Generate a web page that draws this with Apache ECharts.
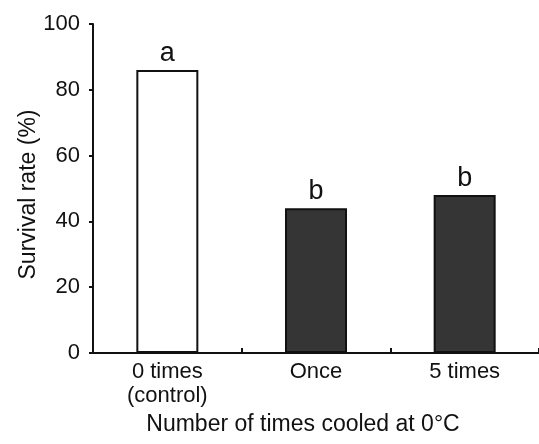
<!DOCTYPE html>
<html style="height: 100%">
	<head>
		<meta charset="utf-8" />
		<title>Survival rate</title>
		<script src="https://cdn.jsdelivr.net/npm/echarts@6/dist/echarts.min.js"></script>
	</head>
	<body style="height: 100%; margin: 0; background: #fff">
		<div id="container" style="width: 539px; height: 444px"></div>
		<script type="text/javascript">
			// data
			let categories = ["0 times\n(control)", "Once", "5 times"];
			let survival = [86, 44, 48];
			let letters = ["a", "b", "b"];
			let yTicks = [0, 20, 40, 60, 80, 100];

			let fillColors = ["#ffffff", "#353535", "#353535"];
			let font = "'Liberation Sans', Arial, sans-serif";
			let ink = "#111";

			let barData = survival.map((v, i) => ({
				value: v,
				itemStyle: { color: fillColors[i] },
				label: { formatter: letters[i] }
			}));

			let chart = echarts.init(document.getElementById("container"));
			chart.setOption({
				animation: false,
				backgroundColor: "#fff",
				grid: { left: 93, top: 24, width: 450, bottom: 91 },
				xAxis: {
					type: "category",
					data: categories,
					name: "Number of times cooled at 0°C",
					nameLocation: "middle",
					nameGap: 58,
					nameTextStyle: { fontFamily: font, fontSize: 23, color: ink, padding: [0, 26, 0, 0] },
					axisLine: { lineStyle: { color: ink, width: 2 } },
					axisTick: { show: true, inside: true, length: 5, lineStyle: { color: ink, width: 2 } },
					axisLabel: { fontFamily: font, fontSize: 22, color: ink, margin: 7, lineHeight: 24 }
				},
				yAxis: {
					type: "value",
					min: yTicks[0],
					max: yTicks[yTicks.length - 1],
					interval: 20,
					name: "Survival rate (%)",
					nameLocation: "middle",
					nameGap: 53,
					nameMoveOverlap: false,
					nameTextStyle: { fontFamily: font, fontSize: 23, color: ink, padding: [0, 12, 0, 0] },
					axisLine: { show: true, lineStyle: { color: ink, width: 2 } },
					axisTick: { show: true, length: 4, lineStyle: { color: ink, width: 2 } },
					axisLabel: { fontFamily: font, fontSize: 22, color: ink, margin: 13 },
					splitLine: { show: false }
				},
				series: [
					{
						type: "bar",
						data: barData,
						barWidth: 62,
						itemStyle: { borderColor: ink, borderWidth: 2 },
						label: {
							show: true,
							position: "top",
							distance: 3,
							fontFamily: font,
							fontSize: 27,
							color: ink
						}
					}
				]
			});
		</script>
	</body>
</html>
